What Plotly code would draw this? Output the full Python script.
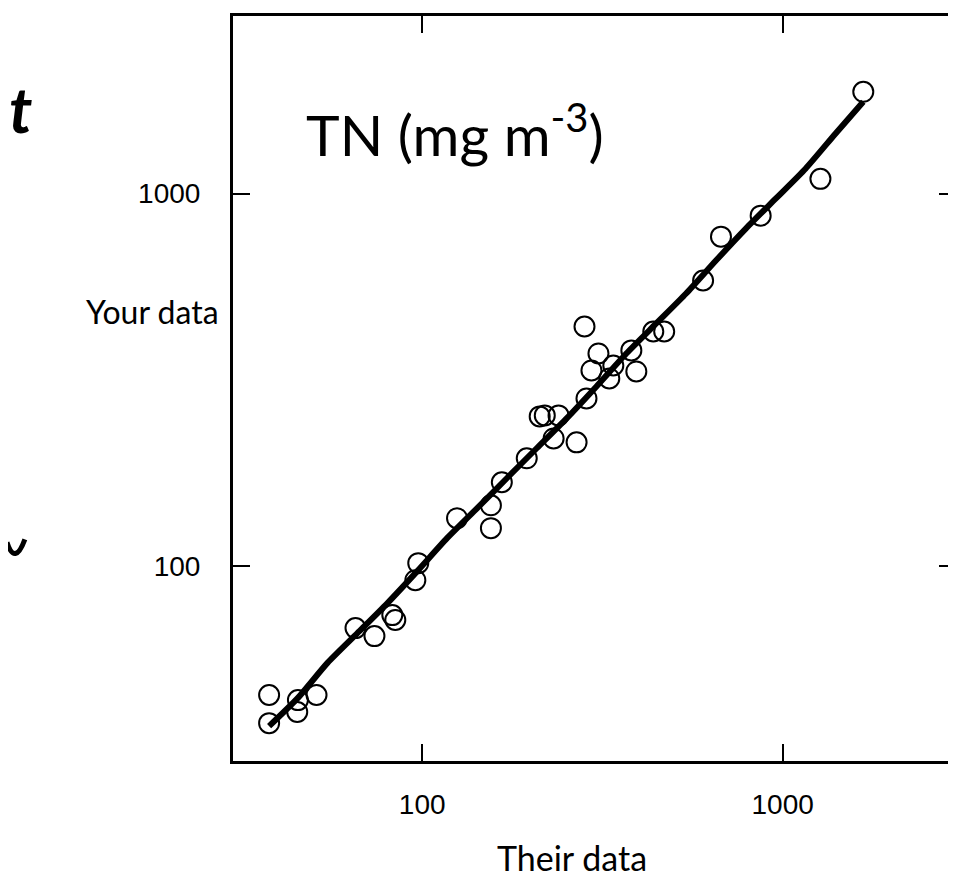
import plotly.graph_objects as go

# Observed points: "Their data" (x) vs "Your data" (y), TN in mg m^-3
their_data = [37.6, 37.6, 45.2, 45.0, 50.9, 65.3, 73.7, 82.6, 84.2, 95.7,
              97.5, 124.9, 155.1, 155.1, 166.3, 195.0, 231.5, 268.1, 211.8, 218.8,
              238.9, 285.6, 282.0, 308.3, 294.8, 339.0, 330.4, 380.4, 392.7, 437.6,
              469.2, 601.6, 674.4, 869.0, 1273.0, 1674.0]
your_data = [45.1, 37.9, 43.7, 40.6, 45.1, 68.2, 64.9, 73.9, 71.7, 91.7,
             101.9, 134.5, 145.7, 126.5, 168.0, 194.8, 220.3, 215.0, 252.4, 254.0,
             254.0, 282.0, 440.0, 372.4, 335.4, 345.9, 319.2, 379.6, 333.3, 426.6,
             426.6, 584.7, 766.8, 873.0, 1096.0, 1877.0]

# Fitted (smoothed) line
fit_x = [37.6, 45.2, 54.6, 66.1, 80.1, 96.9, 117.2, 141.9, 171.7, 207.8, 251.6,
         304.4, 368.4, 445.9, 539.7, 653.1, 790.5, 956.5, 1157.5, 1400.8, 1674.0]
fit_y = [37.2, 44.3, 55.0, 66.1, 79.6, 97.0, 118.9, 143.0, 172.2, 207.3, 249.4,
         303.8, 372.4, 448.3, 539.5, 661.3, 805.7, 969.6, 1166.9, 1448.5, 1764.4]

tick_vals = [100, 1000]
tick_text = ["100", "1000"]

W, H = 956, 882
ML, MR, MT, MB = 225, 5, 7, 129
PW, PH = W - ML - MR, H - MT - MB


def px(x):
    return (x - ML) / PW


def py(y):
    return (H - MB - y) / PH


fig = go.Figure()
fig.add_trace(go.Scatter(
    x=their_data, y=your_data, mode="markers",
    marker=dict(symbol="circle-open", size=20, color="black", line=dict(width=2, color="black")),
    showlegend=False, hoverinfo="x+y"))
fig.add_trace(go.Scatter(
    x=fit_x, y=fit_y, mode="lines",
    line=dict(color="black", width=6, shape="spline", smoothing=0.6),
    showlegend=False, hoverinfo="skip"))

axis_common = dict(
    type="log", showgrid=False, zeroline=False,
    showline=True, linecolor="black", linewidth=3, mirror="ticks",
    ticks="inside", ticklen=17, tickwidth=2, tickcolor="black",
    tickvals=tick_vals, ticktext=tick_text,
    tickfont=dict(family="Liberation Sans, Arial, sans-serif", size=28, color="black"),
)

fig.update_xaxes(range=[1.475, 3.481], ticklabelstandoff=16, **axis_common)
fig.update_yaxes(range=[1.477, 3.477], ticklabelstandoff=24, **axis_common)

title_font = "Lato, Open Sans, sans-serif"
fig.add_annotation(text="TN (mg m<sup>-3</sup>)", xref="paper", yref="paper",
                   x=px(296), y=py(122), xanchor="left", yanchor="middle",
                   showarrow=False, font=dict(family=title_font, size=57, color="black"))
fig.add_annotation(text="Your data", xref="paper", yref="paper",
                   x=px(213), y=py(303), xanchor="right", yanchor="middle",
                   showarrow=False, font=dict(family=title_font, size=32, color="black"))
fig.add_annotation(text="Their data", xref="paper", yref="paper",
                   x=px(565), y=py(850), xanchor="center", yanchor="middle",
                   showarrow=False, font=dict(family=title_font, size=34, color="black"))
# cropped slide text fragments at the far left
fig.add_annotation(text="<b><i>t</i></b>", xref="paper", yref="paper",
                   x=px(25), y=py(100), xanchor="right", yanchor="middle",
                   showarrow=False, font=dict(family=title_font, size=64, color="black"))
fig.add_shape(type="path", xref="paper", yref="paper",
              path=f"M {px(-2)},{py(534)} Q {px(6)},{py(558)} {px(16)},{py(531)}",
              line=dict(color="black", width=5))

fig.update_layout(
    width=W, height=H,
    margin=dict(l=ML, r=MR, t=MT, b=MB),
    paper_bgcolor="white", plot_bgcolor="white",
)

fig.write_html("out.html")
